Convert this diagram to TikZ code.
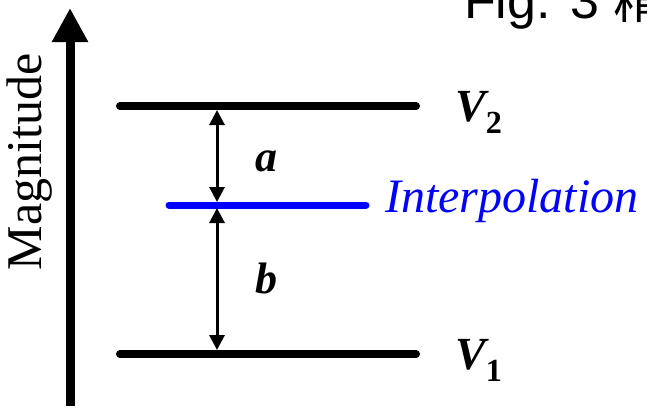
\documentclass[tikz,border=0pt]{standalone}
\usepackage{fontspec}
\setmainfont{Liberation Serif}
\newfontfamily\figsans{Liberation Sans}
\newfontfamily\cjk{Noto Sans CJK SC}
\usetikzlibrary{arrows.meta}
\begin{document}
\begin{tikzpicture}[x=1pt,y=-1pt,
  level/.style={line width=8pt,line cap=round},
  dim/.style={line width=3pt,{Triangle[length=15pt,width=15pt]}-{Triangle[length=15pt,width=15pt]}},
  lbl/.style={font=\fontsize{44}{46}\selectfont\bfseries\itshape,inner sep=0pt}]
\useasboundingbox (0,0) rectangle (647,408);
% axis
\coordinate (ab) at (70,406);
\coordinate (at) at (70,8);
\draw[line width=9pt,-{Triangle[length=34pt,width=34pt]}] (ab) -- (at);
\node[rotate=90,font=\fontsize{50}{52}\selectfont,inner sep=0pt] (mag) at (30,162) {Magnitude};
% levels
\coordinate (v2l) at (120,106); \coordinate (v2r) at (416,106);
\coordinate (v1l) at (120,354); \coordinate (v1r) at (416,354);
\coordinate (il) at (169,205); \coordinate (ir) at (366,205);
\draw[level] (v2l) -- (v2r);
\draw[level] (v1l) -- (v1r);
\draw[level,line width=7pt,blue] (il) -- (ir);
% dimension arrows
\coordinate (d2) at (217,110); \coordinate (dm1) at (217,202);
\coordinate (dm2) at (217,208); \coordinate (d1) at (217,350);
\draw[dim] (d2) -- (dm1);
\draw[dim] (dm2) -- (d1);
% labels
\node[lbl,anchor=base] (a) at (266,171) {a};
\node[lbl,anchor=base] (b) at (266,293) {b};
\node[lbl,anchor=base west,font=\fontsize{46}{48}\selectfont\bfseries\itshape] (V2) at (455,121) {V\textsubscript{\normalfont\bfseries 2}};
\node[lbl,anchor=base west,font=\fontsize{46}{48}\selectfont\bfseries\itshape] (V1) at (455,369) {V\textsubscript{\normalfont\bfseries 1}};
\node[font=\fontsize{48}{50}\selectfont\itshape,text=blue,anchor=base west,inner sep=0pt] (interp) at (385,212) {Interpolation};
\node[font=\fontsize{52}{54}\selectfont\figsans,anchor=base west,inner sep=0pt] (fig) at (464,18) {Fig. 3 {\cjk 精}};
\end{tikzpicture}
\end{document}
